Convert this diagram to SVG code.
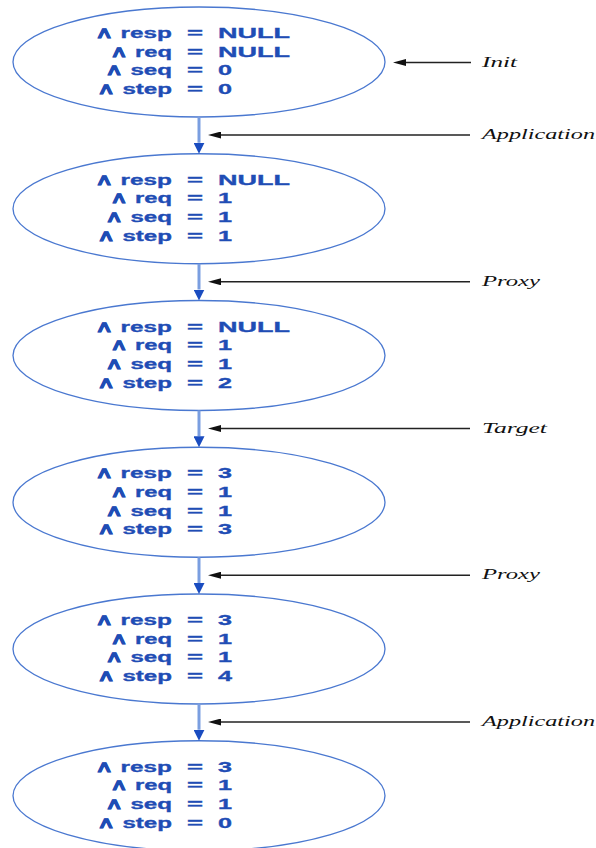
<svg xmlns="http://www.w3.org/2000/svg" width="596" height="848" viewBox="0 0 596 848">
<style>
.bg{fill:#ffffff}
.st{fill:none;stroke:#4a78d0;stroke-width:1.3}
.v{font-family:"Liberation Sans",Arial,sans-serif;font-weight:bold;font-size:15.5px;fill:#1f4db5;stroke:#1f4db5;stroke-width:0.35}
.lbl{font-family:"Liberation Serif","Times New Roman",serif;font-style:italic;font-size:15px;fill:#111111}
.edge{stroke:#7a9ee0;stroke-width:3;fill:none}
.ptr{stroke:#222222;stroke-width:1.4;fill:none}
</style>
<defs>
<marker id="bh" viewBox="0 0 11 11" refX="0" refY="5.5" markerWidth="11" markerHeight="11" markerUnits="userSpaceOnUse" orient="auto">
<path d="M0,0 L11,5.5 L0,11 z" fill="#1a4cc0"/>
</marker>
<marker id="kh" viewBox="0 0 13 7" refX="0" refY="3.5" markerWidth="13" markerHeight="7" markerUnits="userSpaceOnUse" orient="auto">
<path d="M0,0 L13,3.5 L0,7 z" fill="#111111"/>
</marker>
<g id="lhs">
<text class="v" x="95" y="-24" textLength="77" lengthAdjust="spacingAndGlyphs">∧ resp</text>
<text class="v" x="110" y="-5.3" textLength="62" lengthAdjust="spacingAndGlyphs">∧ req</text>
<text class="v" x="105" y="13.4" textLength="67" lengthAdjust="spacingAndGlyphs">∧ seq</text>
<text class="v" x="97" y="32.1" textLength="75" lengthAdjust="spacingAndGlyphs">∧ step</text>
<text class="v" x="187" y="-24" textLength="16" lengthAdjust="spacingAndGlyphs">=</text>
<text class="v" x="187" y="-5.3" textLength="16" lengthAdjust="spacingAndGlyphs">=</text>
<text class="v" x="187" y="13.4" textLength="16" lengthAdjust="spacingAndGlyphs">=</text>
<text class="v" x="187" y="32.1" textLength="16" lengthAdjust="spacingAndGlyphs">=</text>
</g>
</defs>
<rect class="bg" x="0" y="0" width="596" height="848"/>

<g id="node1" transform="translate(0,62)">
<ellipse class="st" cx="199" cy="0" rx="186" ry="55"/>
<use href="#lhs"/>
<text class="v" x="218" y="-24" textLength="72" lengthAdjust="spacingAndGlyphs">NULL</text>
<text class="v" x="218" y="-5.3" textLength="72" lengthAdjust="spacingAndGlyphs">NULL</text>
<text class="v" x="218" y="13.4" textLength="14" lengthAdjust="spacingAndGlyphs">0</text>
<text class="v" x="218" y="32.1" textLength="14" lengthAdjust="spacingAndGlyphs">0</text>
</g>

<g id="node2" transform="translate(0,208.75)">
<ellipse class="st" cx="199" cy="0" rx="186" ry="55"/>
<use href="#lhs"/>
<text class="v" x="218" y="-24" textLength="72" lengthAdjust="spacingAndGlyphs">NULL</text>
<text class="v" x="218" y="-5.3" textLength="14" lengthAdjust="spacingAndGlyphs">1</text>
<text class="v" x="218" y="13.4" textLength="14" lengthAdjust="spacingAndGlyphs">1</text>
<text class="v" x="218" y="32.1" textLength="14" lengthAdjust="spacingAndGlyphs">1</text>
</g>

<g id="node3" transform="translate(0,355.5)">
<ellipse class="st" cx="199" cy="0" rx="186" ry="55"/>
<use href="#lhs"/>
<text class="v" x="218" y="-24" textLength="72" lengthAdjust="spacingAndGlyphs">NULL</text>
<text class="v" x="218" y="-5.3" textLength="14" lengthAdjust="spacingAndGlyphs">1</text>
<text class="v" x="218" y="13.4" textLength="14" lengthAdjust="spacingAndGlyphs">1</text>
<text class="v" x="218" y="32.1" textLength="14" lengthAdjust="spacingAndGlyphs">2</text>
</g>

<g id="node4" transform="translate(0,502.25)">
<ellipse class="st" cx="199" cy="0" rx="186" ry="55"/>
<use href="#lhs"/>
<text class="v" x="218" y="-24" textLength="14" lengthAdjust="spacingAndGlyphs">3</text>
<text class="v" x="218" y="-5.3" textLength="14" lengthAdjust="spacingAndGlyphs">1</text>
<text class="v" x="218" y="13.4" textLength="14" lengthAdjust="spacingAndGlyphs">1</text>
<text class="v" x="218" y="32.1" textLength="14" lengthAdjust="spacingAndGlyphs">3</text>
</g>

<g id="node5" transform="translate(0,649)">
<ellipse class="st" cx="199" cy="0" rx="186" ry="55"/>
<use href="#lhs"/>
<text class="v" x="218" y="-24" textLength="14" lengthAdjust="spacingAndGlyphs">3</text>
<text class="v" x="218" y="-5.3" textLength="14" lengthAdjust="spacingAndGlyphs">1</text>
<text class="v" x="218" y="13.4" textLength="14" lengthAdjust="spacingAndGlyphs">1</text>
<text class="v" x="218" y="32.1" textLength="14" lengthAdjust="spacingAndGlyphs">4</text>
</g>

<g id="node6" transform="translate(0,795.75)">
<ellipse class="st" cx="199" cy="0" rx="186" ry="55"/>
<use href="#lhs"/>
<text class="v" x="218" y="-24" textLength="14" lengthAdjust="spacingAndGlyphs">3</text>
<text class="v" x="218" y="-5.3" textLength="14" lengthAdjust="spacingAndGlyphs">1</text>
<text class="v" x="218" y="13.4" textLength="14" lengthAdjust="spacingAndGlyphs">1</text>
<text class="v" x="218" y="32.1" textLength="14" lengthAdjust="spacingAndGlyphs">0</text>
</g>

<g id="connectors">
<line class="edge" x1="199" y1="117" x2="199" y2="142.75" marker-end="url(#bh)"/>
<line class="edge" x1="199" y1="263.75" x2="199" y2="289.5" marker-end="url(#bh)"/>
<line class="edge" x1="199" y1="410.5" x2="199" y2="436.25" marker-end="url(#bh)"/>
<line class="edge" x1="199" y1="557.25" x2="199" y2="583" marker-end="url(#bh)"/>
<line class="edge" x1="199" y1="704" x2="199" y2="729.75" marker-end="url(#bh)"/>

<line class="ptr" x1="471" y1="62.5" x2="406" y2="62.5" marker-end="url(#kh)"/>
<line class="ptr" x1="470" y1="135" x2="221" y2="135" marker-end="url(#kh)"/>
<line class="ptr" x1="470" y1="281.75" x2="221" y2="281.75" marker-end="url(#kh)"/>
<line class="ptr" x1="470" y1="428.5" x2="221" y2="428.5" marker-end="url(#kh)"/>
<line class="ptr" x1="470" y1="575.25" x2="221" y2="575.25" marker-end="url(#kh)"/>
<line class="ptr" x1="470" y1="722" x2="221" y2="722" marker-end="url(#kh)"/>
</g>

<g id="labels">
<text class="lbl" x="482" y="66.5" textLength="35" lengthAdjust="spacingAndGlyphs">Init</text>
<text class="lbl" x="482" y="139" textLength="113" lengthAdjust="spacingAndGlyphs">Application</text>
<text class="lbl" x="482" y="285.75" textLength="58" lengthAdjust="spacingAndGlyphs">Proxy</text>
<text class="lbl" x="482" y="432.5" textLength="65" lengthAdjust="spacingAndGlyphs">Target</text>
<text class="lbl" x="482" y="579.25" textLength="58" lengthAdjust="spacingAndGlyphs">Proxy</text>
<text class="lbl" x="482" y="726" textLength="113" lengthAdjust="spacingAndGlyphs">Application</text>
</g>
</svg>
